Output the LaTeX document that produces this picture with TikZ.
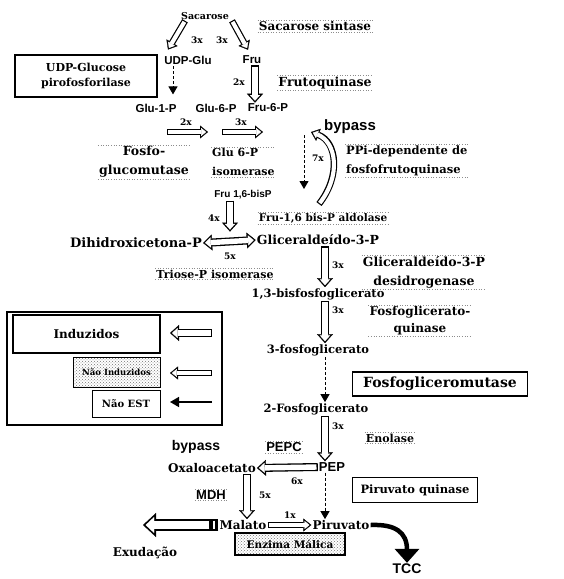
\documentclass[tikz,border=0pt]{standalone}
\usepackage{fontspec}
\setmainfont{DejaVu Serif}
\setsansfont{Liberation Sans}
\usepackage{tikz}
\usetikzlibrary{arrows.meta,patterns,positioning}
\newcommand\fsz[2][]{\fontsize{#2}{#2}\selectfont}
\tikzset{%
  met/.style={font=\bfseries\fsz{12}, inner sep=1pt},
  sml/.style={font=\sffamily\bfseries\fsz{11.5}, inner sep=1pt},
  nx/.style={font=\bfseries\fsz{9}, inner sep=0.5pt},
  enz dots/.style={append after command={
      (\tikzlastnode.north west) edge[dotted, black!45, line width=0.6pt] (\tikzlastnode.north east)
      (\tikzlastnode.south west) edge[dotted, black!45, line width=0.6pt] (\tikzlastnode.south east)}},
  outer tip/.style={-{Triangle[length=9pt,width=16pt,line width=0.3pt]}},
  inner tip/.style={-{Triangle[length=5.7pt,width=10.2pt,line width=0.3pt]}},
  blk/.style={draw=black, line width=8pt, outer tip,
    postaction={draw=white, line width=5.4pt, shorten <=1.3pt, shorten >=2pt, inner tip}},
  blk both/.style={draw=black, line width=8pt,
    {Triangle[length=9pt,width=16pt,line width=0.3pt]}-{Triangle[length=9pt,width=16pt,line width=0.3pt]},
    postaction={draw=white, line width=5.4pt, shorten <=2pt, shorten >=2pt,
      {Triangle[length=5.7pt,width=10.2pt,line width=0.3pt]}-{Triangle[length=5.7pt,width=10.2pt,line width=0.3pt]}}},
  blk thin/.style={draw=black, line width=6.5pt, -{Triangle[length=8pt,width=13pt,line width=0.3pt]},
    postaction={draw=white, line width=4.1pt, shorten <=1.2pt, shorten >=1.9pt,
      -{Triangle[length=4.9pt,width=8pt,line width=0.3pt]}}},
  dash arrow/.style={densely dashed, line width=1pt, -{Triangle[length=8pt,width=9pt]}},
  est box/.style={draw, line width=1.3pt, inner sep=3pt},
  nind box/.style={draw, line width=1.3pt, pattern=crosshatch dots, pattern color=black!55},
}

\begin{document}
\begin{tikzpicture}[x=1pt,y=-1pt]
\useasboundingbox (0,0) rectangle (563,579);

\node[met, font=\bfseries\fsz{9.5}] (sac) at (205,16) {Sacarose};
\node[met, enz dots] (sacsint) at (315,26) {Sacarose sintase};
\node[sml] (udpglu) at (188,60) {UDP-Glu};
\node[sml] (fru) at (252,60) {Fru};
\node[est box, minimum width=142pt, minimum height=42pt, align=center,
  font=\bfseries\fontsize{11}{15}\selectfont] (udp) at (86,76) {UDP-Glucose\\pirofosforilase};
\node[met, font=\bfseries\fsz{12.5}, enz dots] (frutoq) at (325,83) {Frutoquinase};
\node[sml] (glu1p) at (156,108) {Glu-1-P};
\node[sml] (glu6p) at (216,108) {Glu-6-P};
\node[sml] (fru6p) at (268,108) {Fru-6-P};
\node[met, align=center, font=\bfseries\fontsize{12.5}{19}\selectfont, enz dots] (pgm1) at (144,162) {Fosfo-\\glucomutase};
\node[met, align=left, anchor=west, font=\bfseries\fontsize{11}{19}\selectfont, enz dots] (gpi) at (211,162) {Glu 6-P\\isomerase};
\node[sml, font=\sffamily\bfseries\fsz{15}] (bypass1) at (350,127) {bypass};
\node[met, align=left, anchor=west, font=\bfseries\fontsize{11.5}{19}\selectfont, enz dots] (ppi) at (345,161) {PPi-dependente de\\fosfofrutoquinase};
\node[sml, font=\sffamily\bfseries\fsz{10}] (fbp) at (243,195) {Fru 1,6-bisP};
\node[met, font=\bfseries\fsz{10.5}, enz dots] (aldol) at (323,218) {Fru-1,6 bis-P aldolase};
\node[met, font=\bfseries\fsz{13}] (dhap) at (136,243) {Dihidroxicetona-P};
\node[met, font=\bfseries\fsz{12.5}] (gap) at (318,240) {Gliceraldeído-3-P};
\node[met, font=\bfseries\fsz{11}, enz dots] (tpi) at (215,274) {Triose-P isomerase};
\node[met, align=center, font=\bfseries\fontsize{12.5}{19}\selectfont, enz dots] (gapdh) at (424,272) {Gliceraldeído-3-P\\desidrogenase};
\node[met, font=\bfseries\fsz{11.5}] (bpg) at (318,294) {1,3-bisfosfoglicerato};
\node[met, align=center, font=\bfseries\fontsize{12}{17}\selectfont, enz dots] (pgk) at (420,321) {Fosfoglicerato-\\quinase};
\node[met, font=\bfseries\fsz{11.5}] (pg3) at (318,350) {3-fosfoglicerato};
\node[est box, minimum width=175pt, minimum height=24pt, font=\bfseries\fsz{14}] (pgmut) at (440,384) {Fosfogliceromutase};
\node[met, font=\bfseries\fsz{11.5}] (pg2) at (316,409) {2-Fosfoglicerato};
\node[met, font=\bfseries\fsz{11}, enz dots] (enol) at (390,438) {Enolase};
\node[sml, font=\sffamily\bfseries\fsz{14}] (bypass2) at (196,447) {bypass};
\node[sml, font=\sffamily\bfseries\fsz{13}, enz dots] (pepc) at (284,447) {PEPC};
\node[met] (oaa) at (212,468) {Oxaloacetato};
\node[sml, font=\sffamily\bfseries\fsz{13}] (pep) at (332,467) {PEP};
\node[est box, minimum width=125pt, minimum height=25pt, font=\bfseries\fsz{11.5}] (pk) at (415,490) {Piruvato quinase};
\node[sml, font=\sffamily\bfseries\fsz{13}, enz dots] (mdh) at (211,495) {MDH};
\node[met] (mal) at (243,525) {Malato};
\node[met] (pir) at (341,525) {Piruvato};
\node[nind box, minimum width=110pt, minimum height=22pt, font=\bfseries\fsz{10.5}] (me) at (290,544) {Enzima Málica};
\node[met] (exud) at (145,553) {Exudação};
\node[sml, font=\sffamily\bfseries\fsz{14}] (tcc) at (407,569) {TCC};

\foreach \x/\y/\t [count=\i] in {197/40/3x, 222/40/3x, 239/82/2x, 186/122/2x, 241/122/3x,
    318/158/7x, 214/218/4x, 230/256/5x, 338/265/3x, 338/310/3x, 338/426/3x,
    297/481/6x, 265/495/5x, 290/515/1x}
  \node[nx] (m\i) at (\x,\y) {\t};

\draw[blk thin] ([xshift=-20pt]sac.south) -- ([xshift=-20pt,yshift=5pt]udpglu.north);
\draw[blk thin] ([xshift=27pt]sac.south) -- ([xshift=-4pt,yshift=5pt]fru.north);
\draw[dash arrow] ([xshift=-15pt,yshift=-1pt]udpglu.south) -- ([xshift=-15pt,yshift=-29pt]udpglu.south);
\draw[blk] ([xshift=3pt]fru.south) -- ([xshift=-13pt]fru6p.north);
\draw[blk thin] ([xshift=11pt,yshift=-24pt]glu1p.center) -- ([xshift=-8pt,yshift=-24pt]glu6p.center);
\draw[blk thin] ([xshift=6pt,yshift=-24pt]glu6p.center) -- ([xshift=-5pt,yshift=-24pt]fru6p.center);

\coordinate (pfk1) at (304,135);
\coordinate (pfk2) at (304,189);
\draw[dash arrow] (pfk1) -- (pfk2);
\coordinate (bp1) at (311,132);
\coordinate (bp2) at (319,204);
\draw[blk thin] (bp2) .. controls (341,176) and (337,142) .. (bp1);

\draw[blk] ([xshift=-13pt]fbp.south) -- ++(0,31);
\draw[blk both] (dhap.east) -- (gap.west);
\draw[blk] ([xshift=7pt]gap.south) -- ([xshift=7pt]bpg.north);
\draw[blk] ([xshift=7pt]bpg.south) -- ([xshift=7pt]pg3.north);
\draw[dash arrow] ([xshift=7pt]pg3.south) -- ([xshift=9pt]pg2.north);
\draw[blk] ([xshift=9pt]pg2.south) -- ([xshift=-7pt]pep.north);
\draw[blk] (pep.west) -- (oaa.east);
\draw[dash arrow] ([xshift=-7pt]pep.south) -- ([xshift=-16pt]pir.north);
\draw[blk] ([xshift=35pt]oaa.south) -- ([xshift=4pt]mal.north);
\draw[blk thin] (mal.east) -- (pir.west);
\coordinate (exsink) at (143,525);
\draw[draw=black, line width=12pt, -{Triangle[length=13pt,width=24pt,line width=0.3pt]},
  postaction={draw=white, line width=8.6pt, shorten <=9pt, shorten >=2.6pt,
    -{Triangle[length=8.6pt,width=16pt,line width=0.3pt]}}] (mal.west) -- (exsink);
\draw[white, line width=1.6pt] ([xshift=-4.5pt,yshift=4.3pt]mal.west) -- ([xshift=-4.5pt,yshift=-4.3pt]mal.west);
\draw[line width=4.5pt, -{Triangle[length=14pt,width=24pt]}] (pir.east) .. controls (395,524) and (407,532) .. (tcc.north);

\draw[line width=1.5pt] (7,312) rectangle (222,425);
\node[est box, minimum width=147pt, minimum height=38pt, font=\bfseries\fsz{12}] (ind) at (86.5,334) {Induzidos};
\node[nind box, line width=1pt, minimum width=87pt, minimum height=30pt, font=\bfseries\fsz{8.5}] (nind) at (116.5,372) {Não Induzidos};
\node[draw, line width=1pt, minimum width=68pt, minimum height=27pt, font=\bfseries\fsz{10}] (nest) at (126,403.5) {Não EST};
\coordinate (l1a) at (212,333); \coordinate (l1b) at (170,333);
\coordinate (l2a) at (212,373); \coordinate (l2b) at (170,373);
\coordinate (l3a) at (212,402); \coordinate (l3b) at (170,402);
\draw[blk] (l1a) -- (l1b);
\draw[blk thin] (l2a) -- (l2b);
\draw[line width=1.5pt, -{Triangle[length=9pt,width=10pt]}] (l3a) -- (l3b);
\end{tikzpicture}
\end{document}
